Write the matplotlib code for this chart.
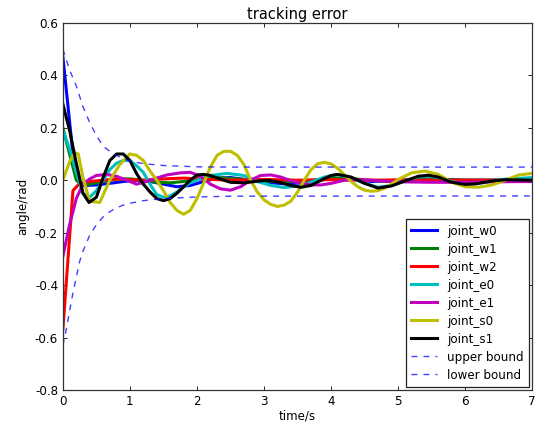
import matplotlib
matplotlib.use("Agg")
import matplotlib.pyplot as plt

# ---- joint tracking errors (time in s, error in rad) ----
t_w0 = [0, 0.15, 0.25, 0.35, 0.5, 0.7, 0.9, 1.1, 1.3, 1.5, 1.7, 1.9, 2.1, 2.3, 2.5, 2.8,
        3.1, 3.4, 3.7, 4.0, 4.3, 4.6, 5.0, 5.5, 6.0, 7.0]
joint_w0 = [0.47, 0.1, -0.015, -0.02, -0.018, -0.012, -0.005, 0.0, -0.005, -0.015, -0.025,
            -0.02, -0.005, 0.008, 0.01, 0.0, -0.01, -0.015, -0.008, 0.008, 0.005, -0.005,
            0.0, 0.005, 0.0, 0.0]

t_w1 = [0, 0.1, 0.2, 0.3, 0.4, 0.6, 0.8, 1.0, 1.2, 1.4, 1.6, 1.8, 2.0, 2.3, 2.6, 2.9,
        3.2, 3.5, 3.8, 4.1, 4.4, 4.7, 5.0, 5.5, 6.0, 7.0]
joint_w1 = [0.2, 0.1, 0.0, -0.02, -0.015, -0.005, 0.005, 0.005, 0.0, -0.008, -0.01, -0.005,
            0.005, 0.01, 0.005, -0.002, -0.005, -0.005, 0.002, 0.008, 0.004, -0.003, -0.002,
            0.003, 0.0, 0.0]

t_w2 = [0, 0.15, 0.25, 0.4, 0.6, 0.8, 1.0, 1.2, 1.5, 1.8, 2.1, 2.5, 3.0, 3.5, 4.0, 4.5,
        5.0, 6.0, 7.0]
joint_w2 = [-0.57, -0.04, -0.012, -0.005, 0.0, 0.005, 0.002, 0.0, 0.005, 0.008, 0.004, 0.0,
            0.003, 0.0, 0.002, 0.0, 0.001, 0.0, 0.0]

t_e0 = [0, 0.1, 0.2, 0.3, 0.4, 0.5, 0.6, 0.7, 0.8, 0.9, 1.0, 1.1, 1.2, 1.3, 1.4, 1.5,
        1.6, 1.7, 1.8, 1.9, 2.0, 2.2, 2.45, 2.7, 2.9, 3.1, 3.3, 3.5, 3.65, 3.9, 4.1, 4.3,
        4.5, 4.7, 4.9, 5.1, 5.3, 5.45, 5.6, 5.8, 6.0, 6.2, 6.4, 6.6, 7.0]
joint_e0 = [0.19, 0.12, 0.03, -0.05, -0.065, -0.04, 0.0, 0.04, 0.065, 0.075, 0.075, 0.055,
            0.03, -0.015, -0.055, -0.065, -0.06, -0.045, -0.026, -0.01, 0.0, 0.018, 0.026,
            0.018, -0.005, -0.02, -0.028, -0.022, -0.012, 0.012, 0.022, 0.008, -0.012,
            -0.027, -0.02, -0.003, 0.012, 0.015, 0.01, -0.005, -0.013, -0.012, -0.004,
            0.004, 0.01]

t_e1 = [0, 0.1, 0.2, 0.3, 0.4, 0.5, 0.65, 0.8, 0.95, 1.1, 1.25, 1.4, 1.55, 1.75, 1.9,
        2.05, 2.2, 2.35, 2.5, 2.65, 2.8, 2.95, 3.1, 3.25, 3.4, 3.55, 3.7, 3.85, 4.0, 4.2,
        4.4, 4.6, 4.8, 5.0, 5.5, 6.0, 6.5, 7.0]
joint_e1 = [-0.29, -0.17, -0.07, -0.015, 0.005, 0.018, 0.022, 0.015, 0.0, -0.015, -0.005,
            0.008, 0.02, 0.028, 0.03, 0.015, -0.015, -0.033, -0.038, -0.025, 0.0, 0.018,
            0.02, 0.012, -0.002, -0.012, -0.018, -0.018, -0.012, 0.0, 0.002, 0.0, -0.004,
            -0.006, -0.008, -0.008, -0.006, -0.005]

t_s0 = [0, 0.1, 0.18, 0.23, 0.3, 0.4, 0.55, 0.7, 0.85, 1.0, 1.1, 1.2, 1.3, 1.4, 1.5, 1.6,
        1.7, 1.8, 1.9, 2.0, 2.1, 2.2, 2.3, 2.4, 2.5, 2.6, 2.7, 2.8, 2.9, 3.0, 3.1, 3.2,
        3.3, 3.4, 3.5, 3.6, 3.7, 3.8, 3.9, 4.0, 4.1, 4.2, 4.3, 4.4, 4.5, 4.6, 4.7, 4.8,
        4.9, 5.0, 5.2, 5.4, 5.6, 5.8, 6.0, 6.2, 6.4, 6.6, 6.8, 7.0]
joint_s0 = [0.0, 0.07, 0.105, 0.1, 0.01, -0.08, -0.085, 0.0, 0.06, 0.1, 0.095, 0.075,
            0.035, 0.0, -0.04, -0.085, -0.115, -0.13, -0.115, -0.07, -0.01, 0.05, 0.095,
            0.11, 0.11, 0.095, 0.06, 0.0, -0.045, -0.075, -0.092, -0.1, -0.095, -0.08,
            -0.045, 0.0, 0.04, 0.063, 0.068, 0.062, 0.045, 0.02, -0.005, -0.025, -0.038,
            -0.042, -0.04, -0.03, -0.015, 0.003, 0.028, 0.035, 0.022, -0.008, -0.025,
            -0.027, -0.018, 0.0, 0.02, 0.026]

t_s1 = [0, 0.1, 0.2, 0.3, 0.39, 0.5, 0.6, 0.7, 0.8, 0.9, 1.0, 1.1, 1.2, 1.3, 1.4, 1.5,
        1.6, 1.7, 1.8, 1.9, 2.0, 2.1, 2.2, 2.35, 2.5, 2.7, 2.9, 3.05, 3.2, 3.4, 3.55, 3.7,
        3.85, 4.0, 4.1, 4.3, 4.5, 4.7, 4.9, 5.1, 5.3, 5.45, 5.6, 5.8, 6.0, 6.15, 6.4, 6.6,
        7.0]
joint_s1 = [0.29, 0.19, 0.065, -0.05, -0.085, -0.065, 0.01, 0.075, 0.1, 0.1, 0.075, 0.025,
            -0.015, -0.045, -0.07, -0.078, -0.07, -0.05, -0.025, 0.0, 0.02, 0.022, 0.018,
            0.004, -0.008, -0.01, -0.004, 0.0, -0.006, -0.02, -0.027, -0.02, 0.0, 0.018,
            0.022, 0.012, -0.012, -0.03, -0.022, -0.003, 0.015, 0.019, 0.012, -0.008,
            -0.016, -0.014, -0.003, 0.002, 0.0]

# ---- error envelope ----
t_upper = [0, 0.1, 0.2, 0.25, 0.3, 0.4, 0.5, 0.6, 0.7, 0.8, 0.9, 1.0, 1.2, 1.5, 2.0,
           2.5, 7.0]
upper_bound = [0.5, 0.42, 0.36, 0.32, 0.28, 0.22, 0.17, 0.13, 0.11, 0.095, 0.082, 0.073,
               0.063, 0.056, 0.051, 0.05, 0.05]
t_lower = [0, 0.05, 0.1, 0.15, 0.2, 0.25, 0.3, 0.4, 0.5, 0.6, 0.7, 0.8, 0.9, 1.0, 1.2,
           1.5, 2.0, 2.5, 7.0]
lower_bound = [-0.63, -0.57, -0.5, -0.43, -0.37, -0.31, -0.27, -0.21, -0.17, -0.14, -0.12,
               -0.105, -0.095, -0.088, -0.078, -0.07, -0.064, -0.061, -0.06]

x_ticks = [0, 1, 2, 3, 4, 5, 6, 7]
y_ticks = [-0.8, -0.6, -0.4, -0.2, 0.0, 0.2, 0.4, 0.6]

series = [
    (t_w0, joint_w0, "b", "joint_w0"),
    (t_w1, joint_w1, "g", "joint_w1"),
    (t_w2, joint_w2, "r", "joint_w2"),
    (t_e0, joint_e0, "c", "joint_e0"),
    (t_e1, joint_e1, "m", "joint_e1"),
    (t_s0, joint_s0, "y", "joint_s0"),
    (t_s1, joint_s1, "k", "joint_s1"),
]

plt.rcParams["font.family"] = "DejaVu Sans"

fig = plt.figure(figsize=(5.42, 4.23), dpi=100, facecolor="white")
ax = fig.add_axes([0.116, 0.078, 0.866, 0.868])

for t, v, c, name in series:
    ax.plot(t, v, color=c, lw=2.2, label=name, solid_joinstyle="round")

ax.plot(t_upper, upper_bound, color="b", alpha=0.75, lw=1.0, dashes=(4.3, 4.3),
        label="upper bound")
ax.plot(t_lower, lower_bound, color="b", alpha=0.75, lw=1.0, dashes=(4.3, 4.3),
        label="lower bound")

ax.set_xlim(0, 7)
ax.set_ylim(-0.8, 0.6)
ax.set_xticks(x_ticks)
ax.set_yticks(y_ticks)
ax.set_yticklabels([f"{v:.1f}" for v in y_ticks])
ax.tick_params(direction="in", length=3, width=0.6, top=True, right=True,
               labelsize=8.6, pad=3.5)
for sp in ax.spines.values():
    sp.set_linewidth(0.9)
    sp.set_color("#333333")

ax.set_title("tracking error", fontsize=10.5, pad=3)
ax.set_xlabel("time/s", fontsize=8.6, labelpad=1)
ax.set_ylabel("angle/rad", fontsize=8.6, labelpad=4)

leg = ax.legend(loc="lower right", fontsize=8.6, fancybox=False, framealpha=1,
                edgecolor="#222222", borderaxespad=0.25, handlelength=2.1,
                handletextpad=0.9, labelspacing=0.42, borderpad=0.45)
leg.get_frame().set_linewidth(0.9)

fig.savefig("out.png", dpi=100, facecolor="white")
